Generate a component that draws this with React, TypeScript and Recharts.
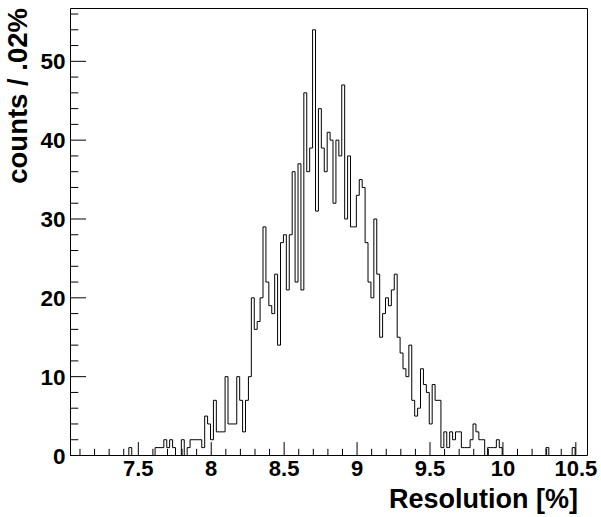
import { LineChart, Line, XAxis, YAxis, ReferenceArea, Label } from "recharts";

// histogram: bins of 0.02 starting at 7.035
const binStart = 7.035;
const binWidth = 0.02;

const counts = [
  // bins 0-19
  0, 0, 0, 0, 0, 0, 0, 0, 0, 0, 0, 0, 0, 0, 0, 0, 0, 0, 0, 0,
  // 20-29
  1, 0, 0, 0, 0, 0, 0, 0, 0, 1,
  // 30-39
  1, 1, 2, 1, 2, 1, 0, 0, 2, 0,
  // 40-49
  1, 2, 2, 2, 2, 1, 5, 4, 2, 7,
  // 50-59
  3, 3, 3, 10, 4, 4, 4, 10, 7, 3,
  // 60-69
  7, 10, 20, 16, 17, 20, 29, 22, 19, 18,
  // 70-79
  23, 14, 27, 28, 21, 28, 36, 22, 37, 21,
  // 80-89
  46, 36, 39, 54, 31, 44, 39, 36, 41, 40,
  // 90-99
  32, 40, 38, 47, 30, 38, 29, 29, 33, 35,
  // 100-109
  34, 27, 22, 20, 30, 23, 15, 18, 20, 19,
  // 110-119
  21, 23, 15, 13, 11, 10, 14, 7, 5, 6,
  // 120-129
  11, 9, 8, 4, 9, 7, 7, 1, 3, 1,
  // 130-139
  3, 2, 3, 3, 1, 1, 1, 2, 4, 3,
  // 140-149
  2, 2, 0, 1, 1, 1, 2, 1, 0, 0,
  // 150-159
  0, 0, 0, 0, 0, 0, 0, 0, 0, 0,
  // 160-169
  0, 0, 0, 1, 0, 0, 0, 0, 0, 0,
  // 170-176
  0, 0, 1, 0, 0, 0, 0,
];

const xMajorTicks = [7.5, 8, 8.5, 9, 9.5, 10, 10.5];
const yMajorTicks = [0, 10, 20, 30, 40, 50];

const X_MIN = 7.035;
const X_MAX = 10.58;
const Y_MAX = 56.7;

// minor ticks: every 0.1 on x, every 2 on y
const xTicks = Array.from({ length: 35 }, (_, i) => Math.round(71 + i) / 10);
const yTicks = Array.from({ length: 29 }, (_, i) => i * 2);

const data = counts.map((n, i) => ({ x: +(binStart + i * binWidth).toFixed(3), n }));
data.push({ x: +(binStart + counts.length * binWidth).toFixed(3), n: 0 });

const FONT = '"Liberation Sans", Arial, Helvetica, sans-serif';

const XTick = (props: any) => {
  const { x, y, payload } = props;
  const v = payload.value;
  const major = xMajorTicks.includes(v);
  return (
    <g>
      <line x1={x} x2={x} y1={y} y2={y - (major ? 13.4 : 6.7)} stroke="#000" strokeWidth={1} />
      {major && (
        <text x={x} y={y + 20} textAnchor="middle" fontFamily={FONT} fontWeight="bold" fontSize={22} fill="#000">
          {v}
        </text>
      )}
    </g>
  );
};

const YTick = (props: any) => {
  const { x, y, payload } = props;
  const v = payload.value;
  const major = yMajorTicks.includes(v);
  return (
    <g>
      <line x1={x} x2={x + (major ? 15.5 : 7.8)} y1={y} y2={y} stroke="#000" strokeWidth={1} />
      {major && (
        <text x={x - 5} y={y} dy="0.36em" textAnchor="end" fontFamily={FONT} fontWeight="bold" fontSize={22.5} fill="#000">
          {v}
        </text>
      )}
    </g>
  );
};

const XTitle = () => (
  <text x={578} y={508} textAnchor="end" fontFamily={FONT} fontWeight="bold" fontSize={27} fill="#000">
    Resolution [%]
  </text>
);

const YTitle = () => (
  <text
    x={27}
    y={8}
    transform="rotate(-90 27 8)"
    textAnchor="end"
    fontFamily={FONT}
    fontWeight="bold"
    fontSize={27.5}
    fill="#000"
  >
    counts / .02%
  </text>
);

export default function App() {
  return (
    <div style={{ position: "absolute", left: 0, top: 0, background: "#fff" }}>
      <LineChart width={601} height={517} data={data} margin={{ top: 8.5, right: 13.5, bottom: 0, left: 0.5 }}>
        <XAxis
          type="number"
          dataKey="x"
          domain={[X_MIN, X_MAX]}
          ticks={xTicks}
          interval={0}
          tickSize={0}
          tickMargin={0}
          tickLine={false}
          axisLine={false}
          tick={XTick}
          height={61.5}
        >
          <Label content={XTitle} />
        </XAxis>
        <YAxis
          type="number"
          domain={[0, Y_MAX]}
          ticks={yTicks}
          interval={0}
          tickSize={0}
          tickMargin={0}
          tickLine={false}
          axisLine={false}
          tick={YTick}
          width={70}
        >
          <Label content={YTitle} />
        </YAxis>
        <ReferenceArea
          x1={X_MIN}
          x2={X_MAX}
          y1={0}
          y2={Y_MAX}
          fill="none"
          stroke="#000"
          strokeWidth={1}
          ifOverflow="visible"
        />
        <Line
          type="stepAfter"
          dataKey="n"
          stroke="#000"
          strokeWidth={1}
          dot={false}
          activeDot={false}
          isAnimationActive={false}
        />
      </LineChart>
    </div>
  );
}
